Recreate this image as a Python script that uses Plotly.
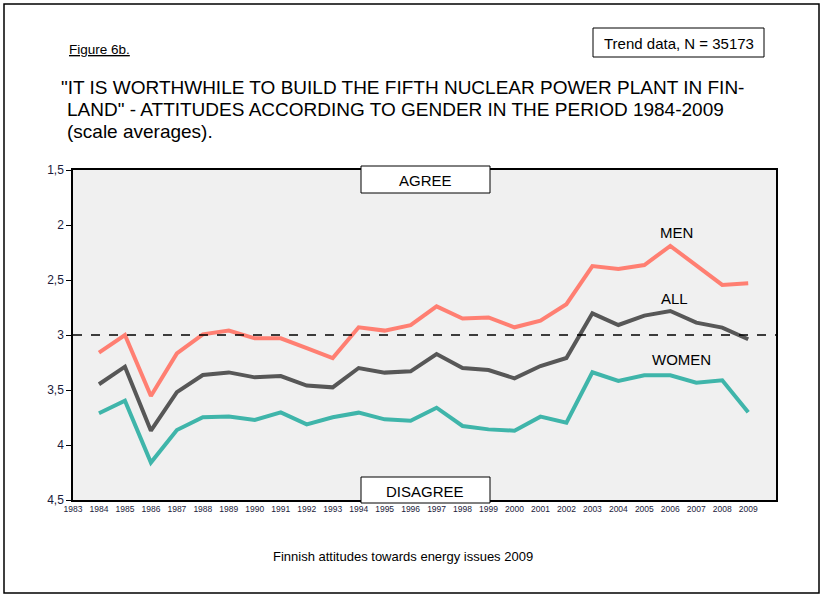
import plotly.graph_objects as go

years = list(range(1984, 2010))
men = [3.16, 3.00, 3.555, 3.167, 2.994, 2.96, 3.03, 3.03, 3.12, 3.21, 2.93, 2.96, 2.91,
       2.74, 2.85, 2.84, 2.93, 2.87, 2.72, 2.373, 2.40, 2.364, 2.19, 2.364, 2.545, 2.53]
all_ = [3.448, 3.288, 3.87, 3.52, 3.364, 3.34, 3.385, 3.373, 3.46, 3.476, 3.30, 3.342, 3.33,
        3.173, 3.30, 3.318, 3.394, 3.282, 3.209, 2.803, 2.909, 2.824, 2.782, 2.888, 2.933, 3.039]
women = [3.712, 3.597, 4.16, 3.864, 3.748, 3.742, 3.773, 3.703, 3.812, 3.748, 3.706, 3.767, 3.779,
         3.661, 3.827, 3.858, 3.87, 3.742, 3.797, 3.339, 3.418, 3.367, 3.367, 3.433, 3.412, 3.703]
x_ticks = list(range(1983, 2010))
y_ticks = [1.5, 2, 2.5, 3, 3.5, 4, 4.5]
y_ticktext = ["1,5", "2", "2,5", "3", "3,5", "4", "4,5"]
title_lines = [
    "\"IT IS WORTHWHILE TO BUILD THE FIFTH NUCLEAR POWER PLANT IN FIN-",
    "LAND\" - ATTITUDES ACCORDING TO GENDER IN THE PERIOD 1984-2009",
    "(scale averages).",
]

FONT = "Liberation Sans, Arial, sans-serif"
W, H = 824, 598
L, R, T, B = 73, 48, 170, 98
PW = W - L - R
PH = H - T - B

def px(x):
    return (x - L) / PW

def py(y):
    return 1 - (y - T) / PH

fig = go.Figure()
fig.add_trace(go.Scatter(x=years, y=men, mode="lines", line=dict(color="#FF7F72", width=4), name="MEN"))
fig.add_trace(go.Scatter(x=years, y=all_, mode="lines", line=dict(color="#575757", width=4), name="ALL"))
fig.add_trace(go.Scatter(x=years, y=women, mode="lines", line=dict(color="#3FB5AA", width=4), name="WOMEN"))

fig.add_shape(type="line", xref="paper", yref="y", x0=0, x1=1, y0=3, y1=3,
              line=dict(color="black", width=1.3, dash="dash"))
# outer frame
fig.add_shape(type="rect", xref="paper", yref="paper", x0=px(4), x1=px(819), y0=py(593), y1=py(4),
              line=dict(color="black", width=1.5), layer="below")
# AGREE / DISAGREE boxes
fig.add_shape(type="rect", xref="paper", yref="paper", x0=px(361), x1=px(490), y0=py(193), y1=py(166),
              line=dict(color="black", width=1), fillcolor="white")
fig.add_shape(type="rect", xref="paper", yref="paper", x0=px(361), x1=px(490), y0=py(503), y1=py(477),
              line=dict(color="black", width=1), fillcolor="white")
# trend box
fig.add_shape(type="rect", xref="paper", yref="paper", x0=px(593), x1=px(764), y0=py(57), y1=py(28),
              line=dict(color="black", width=1), fillcolor="white")

def ann(text, x, y, size, xanchor="center", yanchor="middle", align="center"):
    fig.add_annotation(text=text, xref="paper", yref="paper", x=px(x), y=py(y),
                       xanchor=xanchor, yanchor=yanchor, showarrow=False, align=align,
                       font=dict(family=FONT, size=size, color="black"))

ann("AGREE", 425, 180, 15)
ann("DISAGREE", 425, 491, 15)
ann("Trend data, N = 35173", 679, 43, 15)
ann("<u>Figure 6b.</u>", 67, 50, 13.5, xanchor="left")
for line, xx, yy in zip(title_lines, [59, 65, 65], [88, 109.5, 131]):
    ann(line, xx, yy, 19, xanchor="left", align="left")
ann("MEN", 676, 232, 15)
ann("ALL", 674, 298, 15)
ann("WOMEN", 681, 359, 15)
ann("Finnish attitudes towards energy issues 2009", 403, 556, 13)

fig.update_layout(
    width=W, height=H, margin=dict(l=L, r=R, t=T, b=B),
    paper_bgcolor="white", plot_bgcolor="#F0F0F0", showlegend=False,
    font=dict(family=FONT, color="black"),
    xaxis=dict(range=[1983, 2010.07], tickvals=x_ticks, ticktext=[str(v) for v in x_ticks],
               showgrid=False, zeroline=False, showline=True, linecolor="black", linewidth=1.5,
               mirror=True, ticks="", tickfont=dict(size=8.5, color="#1a1a3a"), tickangle=0),
    yaxis=dict(range=[4.5, 1.5], tickvals=y_ticks, ticktext=y_ticktext,
               showgrid=False, zeroline=False, showline=True, linecolor="black", linewidth=1.5,
               mirror=True, ticks="outside", ticklen=5, tickcolor="black",
               tickfont=dict(size=12, color="#1a1a3a")),
)

fig.write_html("out.html", config={"displayModeBar": False},
               post_script="document.body.style.margin='0';document.body.style.overflow='hidden';")
